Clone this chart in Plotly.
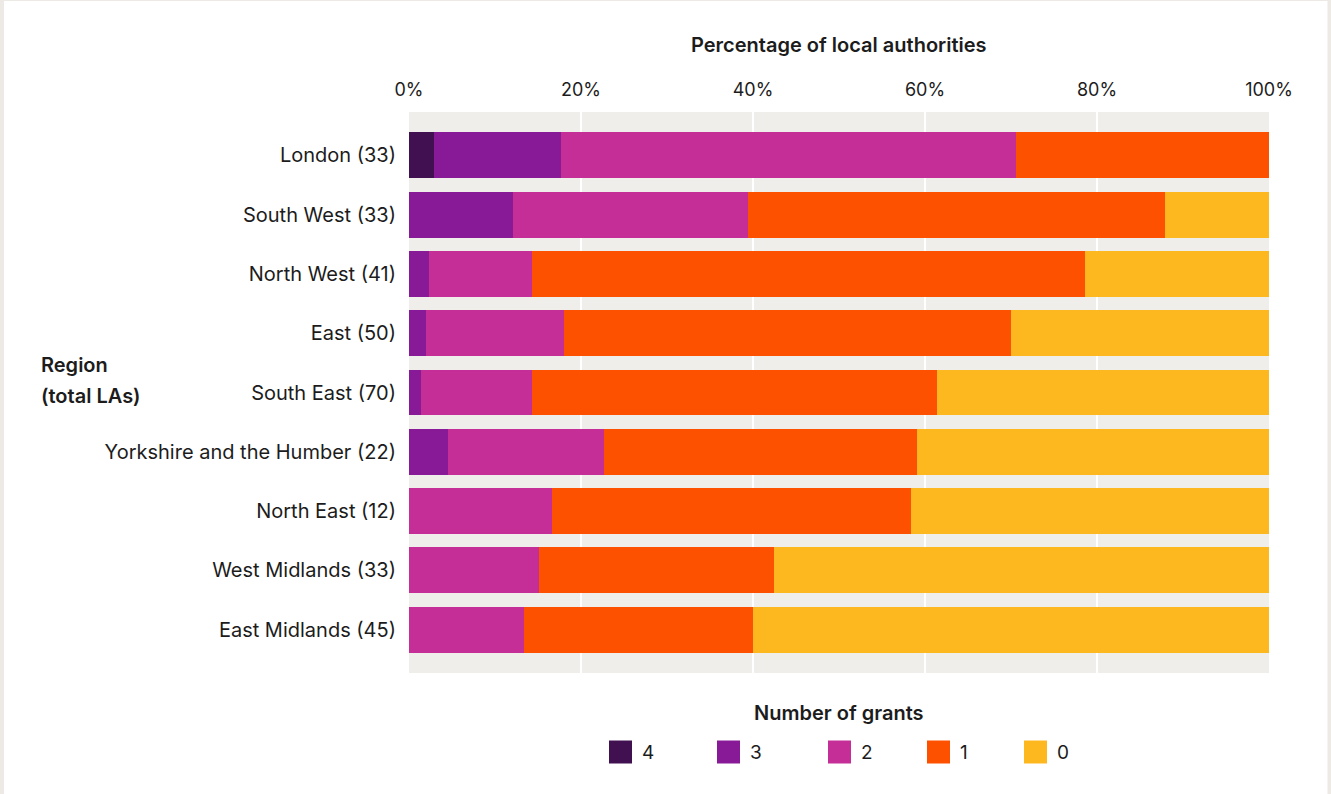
import plotly.graph_objects as go

# Regions with their total number of local authorities
regions = [
    "London (33)",
    "South West (33)",
    "North West (41)",
    "East (50)",
    "South East (70)",
    "Yorkshire and the Humber (22)",
    "North East (12)",
    "West Midlands (33)",
    "East Midlands (45)",
]

# Share of local authorities (%) by number of grants received
grants_4 = [2.94, 0, 0, 0, 0, 0, 0, 0, 0]
grants_3 = [14.71, 12.12, 2.38, 2.00, 1.43, 4.55, 0, 0, 0]
grants_2 = [52.94, 27.27, 11.90, 16.00, 12.86, 18.18, 16.67, 15.15, 13.33]
grants_1 = [29.41, 48.48, 64.29, 52.00, 47.14, 36.36, 41.67, 27.27, 26.67]
grants_0 = [0, 12.12, 21.43, 30.00, 38.57, 40.91, 41.67, 57.58, 60.00]

series_names = ["4", "3", "2", "1", "0"]
series_values = [grants_4, grants_3, grants_2, grants_1, grants_0]
series_colors = ["#411050", "#881A98", "#C42E96", "#FE5100", "#FEB81F"]

x_ticks = [0, 20, 40, 60, 80, 100]
x_tick_labels = ["0%", "20%", "40%", "60%", "80%", "100%"]

FONT = "Inter"
TEXT = "#1c1c1c"
W, H = 1331, 794
ML, MR, MT, MB = 409, 62, 112, 121
PW, PH = W - ML - MR, H - MT - MB


def px(x):
    return (x - ML) / PW


def py(y):
    return (H - MB - y) / PH


fig = go.Figure()
for name, vals, col in zip(series_names, series_values, series_colors):
    fig.add_trace(go.Bar(
        y=regions, x=vals, name=name, orientation="h",
        marker=dict(color=col, line=dict(width=0)),
        width=0.775, showlegend=False,
    ))

shapes = []
annotations = []

# light frame around the page
frame = "#EDEAE5"
for x0, x1, y0, y1 in [(0, 4, 0, H), (1327.5, W, 0, H), (0, W, 0, 1)]:
    shapes.append(dict(type="rect", xref="paper", yref="paper",
                       x0=px(x0), x1=px(x1), y0=py(y1), y1=py(y0),
                       fillcolor=frame, line=dict(width=0), layer="below"))

title_font = dict(family=FONT, size=20, color=TEXT, weight=600)

# axis titles
annotations.append(dict(text="Percentage of local authorities", xref="paper", yref="paper",
                        x=px(839), y=py(45), xanchor="center", yanchor="middle",
                        showarrow=False, font=title_font))
annotations.append(dict(text="Region", xref="paper", yref="paper",
                        x=px(39), y=py(365), xanchor="left", yanchor="middle",
                        showarrow=False, font=title_font))
annotations.append(dict(text="(total LAs)", xref="paper", yref="paper",
                        x=px(39), y=py(396), xanchor="left", yanchor="middle",
                        showarrow=False, font=title_font))

# legend
annotations.append(dict(text="Number of grants", xref="paper", yref="paper",
                        x=px(839), y=py(713), xanchor="center", yanchor="middle",
                        showarrow=False, font=title_font))
legend_x = [609, 717, 828, 927, 1024]
for name, col, lx in zip(series_names, series_colors, legend_x):
    shapes.append(dict(type="rect", xref="paper", yref="paper",
                       x0=px(lx), x1=px(lx + 23), y0=py(763.5), y1=py(740.5),
                       fillcolor=col, line=dict(width=0)))
    annotations.append(dict(text=name, xref="paper", yref="paper",
                            x=px(lx + 31), y=py(752), xanchor="left", yanchor="middle",
                            showarrow=False, font=dict(family=FONT, size=19, color=TEXT)))

fig.update_layout(
    width=W, height=H,
    margin=dict(l=ML, r=MR, t=MT, b=MB, pad=0),
    paper_bgcolor="white",
    plot_bgcolor="#EFEEEA",
    barmode="stack",
    bargap=0.225,
    font=dict(family=FONT, size=18, color=TEXT),
    shapes=shapes,
    annotations=annotations,
    xaxis=dict(
        side="top", range=[0, 100], tickvals=x_ticks, ticktext=x_tick_labels,
        showgrid=True, gridcolor="white", gridwidth=2, zeroline=False,
        showline=False, ticks="", ticklabelstandoff=11,
        tickfont=dict(family=FONT, size=18, color=TEXT), fixedrange=True,
    ),
    yaxis=dict(
        categoryorder="array", categoryarray=regions,
        range=[8.73, -0.73], showgrid=False, zeroline=False, showline=False,
        ticks="", ticklabelstandoff=12,
        tickfont=dict(family=FONT, size=20, color=TEXT), fixedrange=True,
    ),
)

fig.write_html("out.html")
